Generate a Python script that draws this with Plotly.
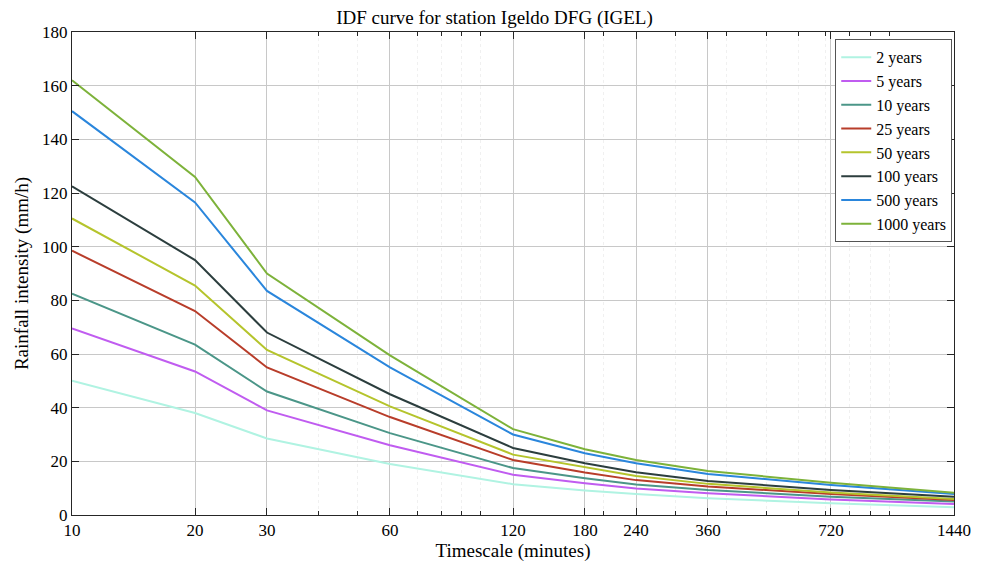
import math
import plotly.graph_objects as go

durations = [10, 20, 30, 60, 120, 180, 240, 360, 720, 1440]
tick_labels = ["10", "20", "30", "60", "120", "180", "240", "360", "720", "1440"]

names = ["2 years", "5 years", "10 years", "25 years", "50 years", "100 years", "500 years", "1000 years"]
i_2 = [50.0, 38.0, 28.5, 19.0, 11.5, 9.1, 7.8, 6.2, 4.4, 2.9]
i_5 = [69.5, 53.5, 39.0, 26.0, 15.0, 11.8, 9.9, 8.1, 5.8, 4.1]
i_10 = [82.5, 63.5, 46.0, 30.5, 17.5, 13.7, 11.4, 9.3, 6.8, 5.0]
i_25 = [98.5, 76.0, 55.0, 36.5, 20.5, 15.8, 13.0, 10.6, 7.8, 5.6]
i_50 = [110.5, 85.5, 61.5, 40.5, 22.5, 17.8, 14.5, 11.6, 8.4, 6.0]
i_100 = [122.5, 95.0, 68.0, 45.0, 25.0, 19.3, 15.9, 12.7, 9.3, 6.8]
i_500 = [150.5, 116.5, 83.5, 55.0, 30.0, 23.0, 19.3, 15.3, 11.2, 7.8]
i_1000 = [162.0, 126.0, 90.0, 59.5, 32.0, 24.5, 20.5, 16.4, 12.0, 8.3]
series = [i_2, i_5, i_10, i_25, i_50, i_100, i_500, i_1000]
colors = ["#b0f3e2", "#c05cf0", "#4b9688", "#b83d2a", "#b5c42c", "#2c3e3e", "#2a86dc", "#7db23a"]

minor_vals = [40, 50, 70, 80, 90, 100, 200, 300, 400, 500, 600, 700, 800, 900, 1000]

fig = go.Figure()
for n, ys, c in zip(names, series, colors):
    fig.add_trace(go.Scatter(x=durations, y=ys, mode="lines", name=n,
                             line=dict(color=c, width=2)))

font = "Liberation Serif, DejaVu Serif, serif"
fig.update_layout(
    width=989, height=566,
    margin=dict(l=72, r=35, t=32, b=51),
    paper_bgcolor="white", plot_bgcolor="white",
    font=dict(family=font, size=16, color="#262626"),
    title=dict(text="IDF curve for station Igeldo DFG (IGEL)", x=0.5, xanchor="center",
               y=1 - 17 / 566, yanchor="middle", font=dict(size=19, color="#000")),
    legend=dict(x=0.998, y=0.985, xanchor="right", yanchor="top",
                bgcolor="white", bordercolor="#555", borderwidth=1,
                font=dict(size=16, color="#000"), tracegroupgap=0, itemwidth=30),
    showlegend=True,
)
fig.update_xaxes(
    type="log", range=[math.log10(durations[0]), math.log10(durations[-1])],
    tickmode="array", tickvals=durations, ticktext=tick_labels, automargin=False,
    showgrid=True, gridcolor="#c8c8c8", gridwidth=1,
    ticks="inside", ticklen=7, tickcolor="#262626", showline=True, linecolor="#262626",
    linewidth=1, mirror="ticks", zeroline=False,
    tickfont=dict(size=17, color="#000"),
    title=dict(text="Timescale (minutes)", font=dict(size=19, color="#000"), standoff=4),
    minor=dict(tickmode="array", tickvals=minor_vals, showgrid=True, gridcolor="#f0f0f0",
               griddash="dot", ticks="inside", ticklen=4, tickcolor="#262626"),
)
fig.update_yaxes(
    range=[0, 180], tickmode="array", tickvals=list(range(0, 181, 20)), automargin=False,
    showgrid=True, gridcolor="#c8c8c8", gridwidth=1,
    ticks="inside", ticklen=7, tickcolor="#262626", showline=True, linecolor="#262626",
    linewidth=1, mirror="ticks", zeroline=False,
    tickfont=dict(size=17, color="#000"),
    title=dict(text="Rainfall intensity (mm/h)", font=dict(size=19, color="#000"), standoff=8),
)
fig.write_html("out.html")
